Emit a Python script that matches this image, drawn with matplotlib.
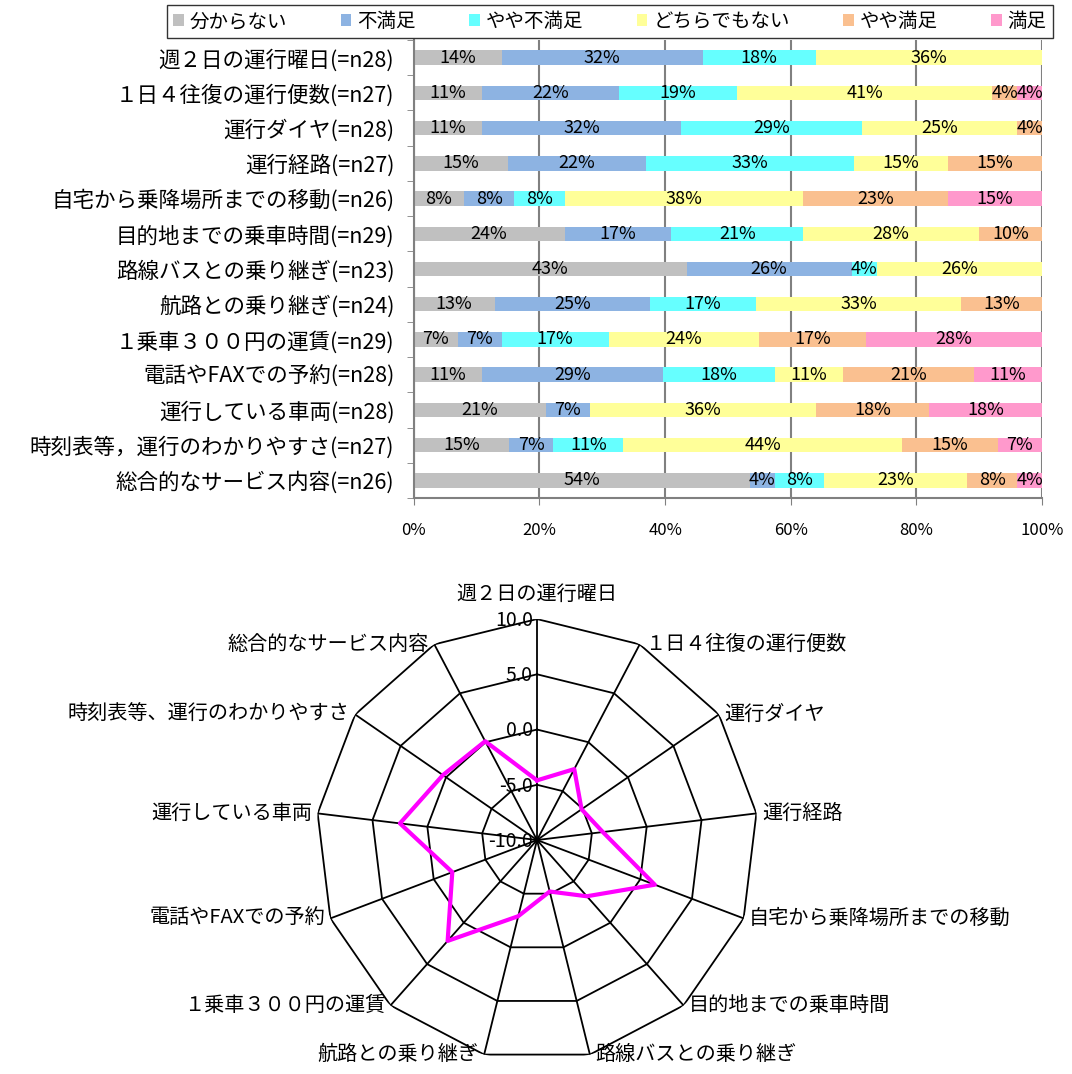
import numpy as np
import matplotlib.pyplot as plt

plt.rcParams['font.family'] = ['Noto Sans CJK JP', 'DejaVu Sans']

# --- 満足度（帯グラフ）データ ---
categories = [
    "週２日の運行曜日(=n28)",
    "１日４往復の運行便数(=n27)",
    "運行ダイヤ(=n28)",
    "運行経路(=n27)",
    "自宅から乗降場所までの移動(=n26)",
    "目的地までの乗車時間(=n29)",
    "路線バスとの乗り継ぎ(=n23)",
    "航路との乗り継ぎ(=n24)",
    "１乗車３００円の運賃(=n29)",
    "電話やFAXでの予約(=n28)",
    "運行している車両(=n28)",
    "時刻表等，運行のわかりやすさ(=n27)",
    "総合的なサービス内容(=n26)",
]
series_names = ["分からない", "不満足", "やや不満足", "どちらでもない", "やや満足", "満足"]
colors = ["#C0C0C0", "#8DB3E2", "#66FFFF", "#FFFF99", "#FAC090", "#FF99CC"]

wakaranai = [14, 11, 11, 15, 8, 24, 43, 13, 7, 11, 21, 15, 54]
fuman     = [32, 22, 32, 22, 8, 17, 26, 25, 7, 29, 7, 7, 4]
yaya_fuman = [18, 19, 29, 33, 8, 21, 4, 17, 17, 18, 0, 11, 8]
dochira   = [36, 41, 25, 15, 38, 28, 26, 33, 24, 11, 36, 44, 23]
yaya_manzoku = [0, 4, 4, 15, 23, 10, 0, 13, 17, 21, 18, 15, 8]
manzoku   = [0, 4, 0, 0, 15, 0, 0, 0, 28, 11, 18, 7, 4]

# --- レーダーチャート（満足度得点） ---
radar_labels = [
    "週２日の運行曜日", "１日４往復の運行便数", "運行ダイヤ", "運行経路",
    "自宅から乗降場所までの移動", "目的地までの乗車時間", "路線バスとの乗り継ぎ",
    "航路との乗り継ぎ", "１乗車３００円の運賃", "電話やFAXでの予約",
    "運行している車両", "時刻表等、運行のわかりやすさ", "総合的なサービス内容",
]
scores = [-4.6, -2.75, -5.1, -4.0, 1.4, -3.2, -5.2, -2.9, 2.2, -1.8, 2.5, 0.35, 0.1]
rings = [-5, 0, 5, 10]
ring_labels = ["10.0", "5.0", "0.0", "-5.0", "-10.0"]
ring_vals = [10, 5, 0, -5, -10]

fig = plt.figure(figsize=(10.72, 10.74), dpi=100)

# ===== 帯グラフ =====
ax = fig.add_axes([0.386, 0.5363, 0.586, 0.4265])
data = np.array([wakaranai, fuman, yaya_fuman, dochira, yaya_manzoku, manzoku], dtype=float)
widths = data / data.sum(axis=0) * 100
y = np.arange(len(categories))
left = np.zeros(len(categories))
handles = []
for i in range(len(series_names)):
    b = ax.barh(y, widths[i], left=left, height=0.41, color=colors[i], label=series_names[i])
    handles.append(b)
    for j in range(len(categories)):
        if data[i, j] > 0:
            ax.text(left[j] + widths[i, j] / 2, y[j], f"{int(data[i, j])}%",
                    ha='center', va='center', fontsize=13)
    left += widths[i]

ax.set_xlim(0, 100)
ax.set_ylim(len(categories) - 0.5, -0.5)
ax.set_xticks([0, 20, 40, 60, 80, 100])
ax.set_xticklabels(["0%", "20%", "40%", "60%", "80%", "100%"], fontsize=12)
ax.set_yticks(y)
ax.set_yticklabels(categories, fontsize=15.5)
ax.set_yticks(np.arange(len(categories) + 1) - 0.5, minor=True)
ax.tick_params(axis='y', which='major', length=0, pad=14)
ax.tick_params(axis='y', which='minor', length=5, color='#808080')
ax.tick_params(axis='x', length=5, color='#808080', pad=12)
ax.grid(axis='x', color='#808080', lw=1.5)
ax.set_axisbelow(True)
for s in ['top', 'right']:
    ax.spines[s].set_visible(False)
for s in ['left', 'bottom']:
    ax.spines[s].set_color('#808080')
    ax.spines[s].set_linewidth(1.5)

fig.legend(handles, series_names, loc='center', bbox_to_anchor=(0.569, 0.980),
           ncol=6, fontsize=14, frameon=True, fancybox=False, edgecolor='black',
           handlelength=0.55, handleheight=0.55, handletextpad=0.3,
           columnspacing=2.75, borderpad=0.3)

# ===== レーダーチャート =====
rax = fig.add_axes([0.2948, 0.0121, 0.4123, 0.4115], projection='polar')
rax.set_theta_zero_location('N')
rax.set_theta_direction(-1)
rax.set_ylim(-10, 10)
rax.grid(False)
rax.set_xticks([])
rax.set_yticks([])
rax.spines['polar'].set_visible(False)
rax.patch.set_visible(False)

n = len(radar_labels)
theta = np.arange(n) * 2 * np.pi / n
theta_c = np.append(theta, theta[0])

for t in theta:
    rax.plot([t, t], [-10, 10], color='black', lw=1.3)
for r in rings:
    rax.plot(theta_c, [r] * (n + 1), color='black', lw=1.3)

rax.plot(theta_c, scores + [scores[0]], color='#FF00FF', lw=3)

for txt, v in zip(ring_labels, ring_vals):
    rax.annotate(txt, xy=(0, v), xytext=(-3, -1), textcoords='offset points',
                 ha='right', va='center', fontsize=14)

for t, lab in zip(theta, radar_labels):
    s = np.sin(t)
    if abs(s) < 0.05:
        rax.annotate(lab, xy=(t, 10), xytext=(0, 10), textcoords='offset points',
                     ha='center', va='bottom', fontsize=14.5, annotation_clip=False)
    elif s > 0:
        rax.annotate(lab, xy=(t, 10), xytext=(4, 0), textcoords='offset points',
                     ha='left', va='center', fontsize=14.5, annotation_clip=False)
    else:
        rax.annotate(lab, xy=(t, 10), xytext=(-4, 0), textcoords='offset points',
                     ha='right', va='center', fontsize=14.5, annotation_clip=False)

fig.savefig("out.png", dpi=100)
